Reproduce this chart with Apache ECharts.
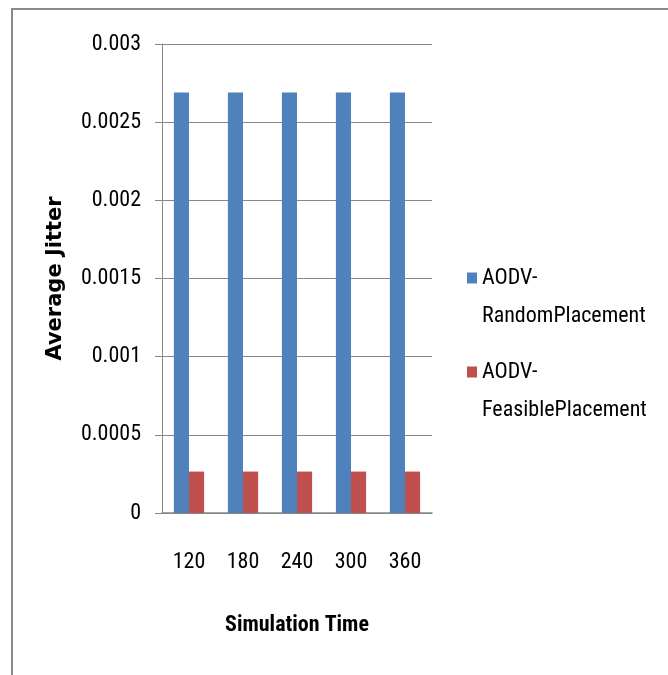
<!DOCTYPE html>
<html>
<head>
<meta charset="utf-8">
<script src="https://cdn.jsdelivr.net/npm/echarts@6/dist/echarts.min.js"></script>
<style>
  html, body { margin: 0; padding: 0; background: #ffffff; }
  #chart { width: 668px; height: 675px; }
</style>
</head>
<body>
<div id="chart"></div>
<script>
// Average jitter per simulation time for the two AODV node placements
const categories = ['120', '180', '240', '300', '360'];
const seriesNames = ['AODV-\nRandomPlacement', 'AODV-\nFeasiblePlacement'];
const randomPlacement = [0.00269, 0.00269, 0.00269, 0.00269, 0.00269];
const feasiblePlacement = [0.000265, 0.000265, 0.000265, 0.000265, 0.000265];
const yTicks = [0, 0.0005, 0.001, 0.0015, 0.002, 0.0025, 0.003];

const FONT = '"Roboto Condensed", Carlito, "Liberation Sans", sans-serif';
const GRID_COLOR = '#878787';

const chart = echarts.init(document.getElementById('chart'), null, { renderer: 'canvas' });

chart.setOption({
  backgroundColor: '#ffffff',
  animation: false,
  graphic: [
    {
      // frame line along the top and left edge
      type: 'polyline',
      silent: true,
      shape: { points: [[12, 675], [12, 9], [668, 9]] },
      style: { stroke: '#8a8a8a', lineWidth: 2, fill: null }
    }
  ],
  grid: { left: 162, right: 236, top: 44, bottom: 162, containLabel: false },
  legend: {
    orient: 'vertical',
    left: 462,
    top: 216,
    itemWidth: 10,
    itemHeight: 11,
    itemGap: -20,
    icon: 'rect',
    data: seriesNames,
    // a leading blank line keeps the marker level with the first text line
    formatter: function (name) { return '\u00a0\n' + name; },
    textStyle: {
      fontFamily: FONT,
      fontSize: 22,
      color: '#000000',
      lineHeight: 38
    }
  },
  xAxis: {
    type: 'category',
    data: categories,
    name: 'Simulation Time',
    nameLocation: 'middle',
    nameGap: 101,
    nameTextStyle: { fontFamily: FONT, fontSize: 22, fontWeight: 'bold', color: '#000000' },
    axisLine: { show: true, lineStyle: { color: GRID_COLOR, width: 1.5 } },
    axisTick: { show: false },
    axisLabel: { fontFamily: FONT, fontSize: 22, color: '#000000', margin: 38 }
  },
  yAxis: {
    type: 'value',
    min: 0,
    max: 0.003,
    interval: 0.0005,
    name: 'Average Jitter',
    nameLocation: 'middle',
    nameRotate: 90,
    nameGap: 96,
    nameTextStyle: { fontFamily: '"DejaVu Sans", sans-serif', fontSize: 21, fontWeight: 'bold', color: '#000000' },
    axisLine: { show: true, lineStyle: { color: GRID_COLOR, width: 1 } },
    axisTick: { show: true, inside: false, length: 7, lineStyle: { color: GRID_COLOR } },
    splitLine: { show: true, lineStyle: { color: GRID_COLOR, width: 1 } },
    axisLabel: {
      fontFamily: FONT,
      fontSize: 22,
      color: '#000000',
      margin: 21,
      formatter: function (v) {
        const hit = yTicks.find(function (t) { return Math.abs(t - v) < 1e-9; });
        return String(hit !== undefined ? hit : v);
      }
    }
  },
  series: [
    {
      name: seriesNames[0],
      type: 'bar',
      data: randomPlacement,
      barGap: '0%',
      barCategoryGap: '44%',
      itemStyle: { color: '#4f81bd' }
    },
    {
      name: seriesNames[1],
      type: 'bar',
      data: feasiblePlacement,
      barGap: '0%',
      barCategoryGap: '44%',
      itemStyle: { color: '#c0504d' }
    }
  ]
});
</script>
</body>
</html>
